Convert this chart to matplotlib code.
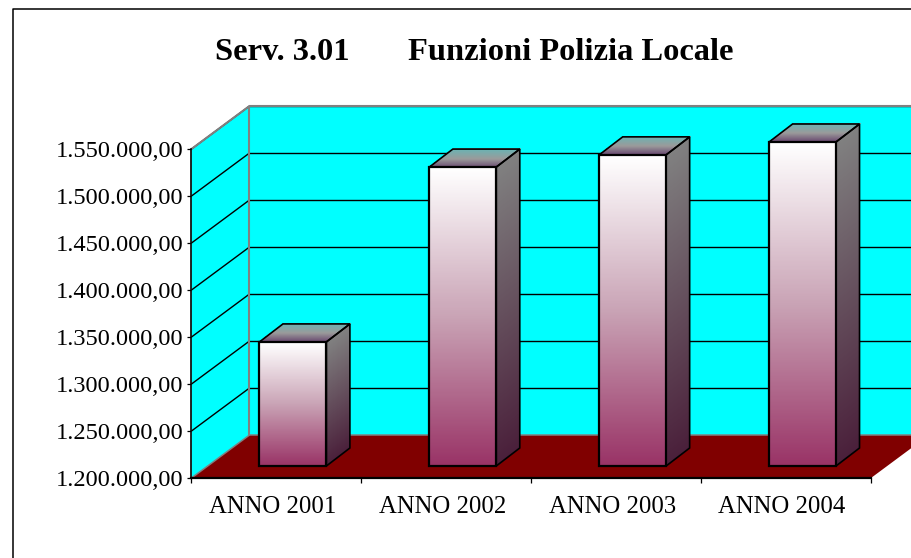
import matplotlib
matplotlib.use('Agg')
import matplotlib.pyplot as plt
import numpy as np
from matplotlib.colors import LinearSegmentedColormap
from matplotlib.patches import Polygon
from matplotlib.transforms import Affine2D, IdentityTransform

plt.rcParams['font.family'] = ['Liberation Serif', 'DejaVu Serif']

categories = ['ANNO 2001', 'ANNO 2002', 'ANNO 2003', 'ANNO 2004']
values = [1332000, 1518000, 1531000, 1544700]
ticks = [1200000, 1250000, 1300000, 1350000, 1400000, 1450000, 1500000, 1550000]
tick_labels = ['1.200.000,00', '1.250.000,00', '1.300.000,00', '1.350.000,00',
               '1.400.000,00', '1.450.000,00', '1.500.000,00', '1.550.000,00']

W, H = 912, 558
fig = plt.figure(figsize=(W / 100, H / 100), dpi=100, facecolor='white')
ax = fig.add_axes([191.5 / W, (H - 478) / H, 679.5 / W, 329 / H])
ax.set_xlim(0, 4)
ax.set_ylim(1200000, 1550000)
ax.set_autoscale_on(False)
ax.patch.set_visible(False)

PX = IdentityTransform()
DX, DY = 58, 43
BAR_OFF = (16.5, 12)
BAR_D = np.array([23.5, 18])
BAR_W = 0.394

front_cm = LinearSegmentedColormap.from_list('front', ['#993366', '#c9a3b5', '#ffffff'])
side_cm = LinearSegmentedColormap.from_list('side', ['#4a1f3a', '#808080'])
top_cm = LinearSegmentedColormap.from_list('top', ['#6a4a70', '#9a9a9a', '#70b0b0'])

y0, y1 = ax.get_ylim()


def px(x, y):
    return ax.transData.transform((x, y))


def poly(pts, fc='none', ec='none', lw=0, z=1, aa=True):
    ax.add_patch(Polygon(pts, closed=True, fc=fc, ec=ec, lw=lw, transform=PX, clip_on=False,
                         zorder=z, antialiased=aa))


def line(a, b, color='black', lw=1.0, z=2):
    ax.plot([a[0], b[0]], [a[1], b[1]], color=color, lw=lw, transform=PX, clip_on=False,
            zorder=z, solid_capstyle='butt')


depth = np.array([DX, DY])
bl, tl, br = px(0, y0), px(0, y1), px(4, y0)
tr = px(4, y1)

# walls and floor
poly([bl, tl, tl + depth, bl + depth], fc='#00ffff')
poly([bl + depth, br + depth, tr + depth, tl + depth], fc='#00ffff')
poly([bl, br, br + depth, bl + depth], fc='#800000')

# grid on both walls
for t in ticks[1:]:
    a = px(0, t)
    line(a, a + depth)
    line(a + depth, px(4, t) + depth)

# grey wall edges
line(bl, bl + depth, '#808080', 1.1, 3)
line(tl, tl + depth, '#808080', 1.5, 3)
line(tl + depth, bl + depth, '#808080', 1.5, 3)
line(tl + depth, tr + depth, '#808080', 1.5, 3)
line(bl + depth, br + depth, '#808080', 1.1, 3)

# bars
for i, v in enumerate(values):
    c = i + 0.5
    pb_l = px(c - BAR_W / 2, y0) + BAR_OFF
    pb_r = px(c + BAR_W / 2, y0) + BAR_OFF
    pt_l = px(c - BAR_W / 2, v) + BAR_OFF
    pt_r = px(c + BAR_W / 2, v) + BAR_OFF
    n = int(pt_l[1] - pb_l[1])
    edges = np.linspace(pb_l[1], pt_l[1], n + 1)
    for k in range(n):
        f = k / (n - 1)
        ya, yb = edges[k], edges[k + 1] + 0.5
        poly([(pb_l[0], ya), (pb_r[0], ya), (pb_r[0], yb), (pb_l[0], yb)], fc=front_cm(f), z=4, aa=False)
        poly([(pb_r[0], ya), (pb_r[0] + BAR_D[0], ya + BAR_D[1]),
              (pb_r[0] + BAR_D[0], yb + BAR_D[1]), (pb_r[0], yb)], fc=side_cm(f), z=4, aa=False)
    for k in range(18):
        d0, d1 = BAR_D * k / 18, BAR_D * (k + 1.5) / 18
        poly([pt_l + d0, pt_r + d0, pt_r + d1, pt_l + d1], fc=top_cm(k / 17), z=4, aa=False)
    poly([pb_l, pb_r, pt_r, pt_l], ec='black', lw=1.6, z=5)
    poly([pb_r, pb_r + BAR_D, pt_r + BAR_D, pt_r], ec='black', lw=1.2, z=5)
    poly([pt_l, pt_r, pt_r + BAR_D, pt_l + BAR_D], ec='black', lw=1.2, z=5)

# axes
for s in ['top', 'right']:
    ax.spines[s].set_visible(False)
ax.spines['left'].set_linewidth(1.2)
ax.spines['bottom'].set_linewidth(1.6)
ax.spines['left'].set_zorder(6)
ax.spines['bottom'].set_zorder(6)
ax.set_yticks(ticks)
ax.set_yticklabels(tick_labels, fontsize=17.6)
ax.set_xticks(range(5))
ax.set_xticks([0.5, 1.5, 2.5, 3.5], minor=True)
ax.set_xticklabels([])
ax.set_xticklabels(categories, minor=True, fontsize=17.8)
ax.tick_params(axis='x', which='minor', length=0, pad=13.2)
ax.tick_params(axis='x', which='major', length=3.6, width=0.9)
ax.tick_params(axis='y', length=3, width=0.9, pad=3)
for lab in ax.get_xticklabels(minor=True):
    lab.set_transform(lab.get_transform() + Affine2D().translate(-4, 0))

fig.text(282.5 / W, 1 - 59.5 / H, 'Serv. 3.01', fontsize=23.4, fontweight='bold', ha='center', va='baseline')
fig.text(570.5 / W, 1 - 59.5 / H, 'Funzioni Polizia Locale', fontsize=23.4, fontweight='bold', ha='center', va='baseline')

# chart frame
fig.add_artist(plt.Line2D([13 / W, 13 / W, 1], [0, 1 - 8.5 / H, 1 - 8.5 / H], color='black', lw=1.1))

fig.savefig('out.png', dpi=100)
